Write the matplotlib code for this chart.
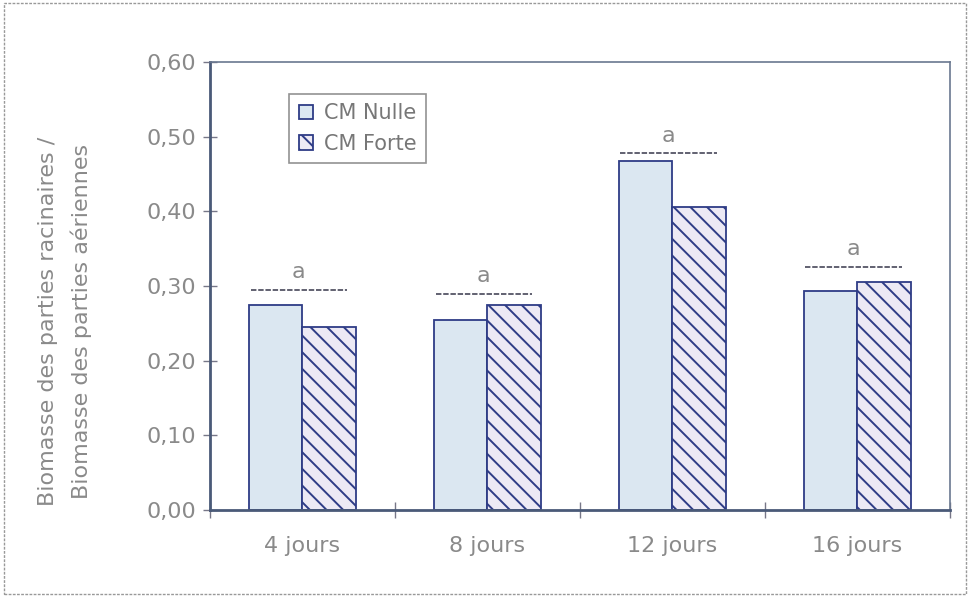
import matplotlib.pyplot as plt
import numpy as np
from matplotlib.patches import Rectangle

# data
jours = ['4 jours', '8 jours', '12 jours', '16 jours']
cm_nulle = [0.275, 0.255, 0.468, 0.293]
cm_forte = [0.245, 0.275, 0.406, 0.306]
sig_niveau = [0.295, 0.290, 0.478, 0.326]
sig_lettre = ['a', 'a', 'a', 'a']
yticks = [0.0, 0.1, 0.2, 0.3, 0.4, 0.5, 0.6]

txt = '#8a8a8a'
edge = '#2e3c86'
plt.rcParams['font.family'] = 'DejaVu Sans'
plt.rcParams['hatch.linewidth'] = 1.4
plt.rcParams['hatch.color'] = '#3b3f8c'

fig = plt.figure(figsize=(9.72, 5.98), dpi=100)
ax = fig.add_axes([0.216, 0.147, 0.761, 0.749])

x = np.arange(len(jours))
w = 0.29
ax.bar(x - w/2, cm_nulle, w, color='#dbe7f1', edgecolor=edge, linewidth=1.3, label='CM Nulle')
ax.bar(x + w/2, cm_forte, w, color='#ece9f4', edgecolor=edge, linewidth=1.3, hatch='\\\\', label='CM Forte')

# significance lines and letters
for xi, yv, s in zip(x, sig_niveau, sig_lettre):
    ax.hlines(yv, xi - 0.28, xi + 0.24, colors='#555566', linewidth=1.3, linestyles=(0, (3, 1)))
    ax.text(xi - 0.02, yv + 0.01, s, ha='center', va='bottom', fontsize=16, color=txt)

ax.set_xlim(-0.5, 3.5)
ax.set_ylim(0, 0.6)
ax.set_yticks(yticks)
ax.set_yticklabels([('%.2f' % v).replace('.', ',') for v in yticks])
ax.set_xticks(np.arange(-0.5, 4.0, 1.0))
ax.set_xticklabels([])
ax.set_xticks(x, minor=True)
ax.set_xticklabels(jours, minor=True)
ax.tick_params(axis='x', which='minor', length=0, pad=19, labelsize=16, labelcolor=txt)
ax.tick_params(axis='x', which='major', direction='inout', length=12, width=1, color='#777788')
ax.tick_params(axis='y', direction='inout', length=10, width=1, color='#777788', labelsize=16, labelcolor=txt, pad=5)

for sp in ax.spines.values():
    sp.set_color('#6a7890')
    sp.set_linewidth(1.2)
ax.spines['left'].set_linewidth(2)
ax.spines['bottom'].set_linewidth(2)
ax.spines['left'].set_color('#4a5a78')
ax.spines['bottom'].set_color('#4a5a78')

leg = ax.legend(loc='upper left', bbox_to_anchor=(0.093, 0.952), fontsize=15, frameon=True,
                fancybox=False, handlelength=0.7, handleheight=0.7, handletextpad=0.5,
                labelspacing=0.5, borderpad=0.45)
leg.get_frame().set_edgecolor('#777777')
leg.get_frame().set_linewidth(1.2)
for t in leg.get_texts():
    t.set_color('#777777')

fig.text(0.067, 0.462, 'Biomasse des parties racinaires /\nBiomasse des parties aériennes',
         rotation=90, ha='center', va='center', multialignment='center',
         fontsize=16, color=txt, linespacing=1.7)

# dotted frame around the scanned figure
fig.patches.append(Rectangle((0.004, 0.006), 0.99, 0.989, transform=fig.transFigure,
                             fill=False, edgecolor='#999999', linewidth=1, linestyle=(0, (2, 1))))

fig.savefig('out.png', dpi=100)
